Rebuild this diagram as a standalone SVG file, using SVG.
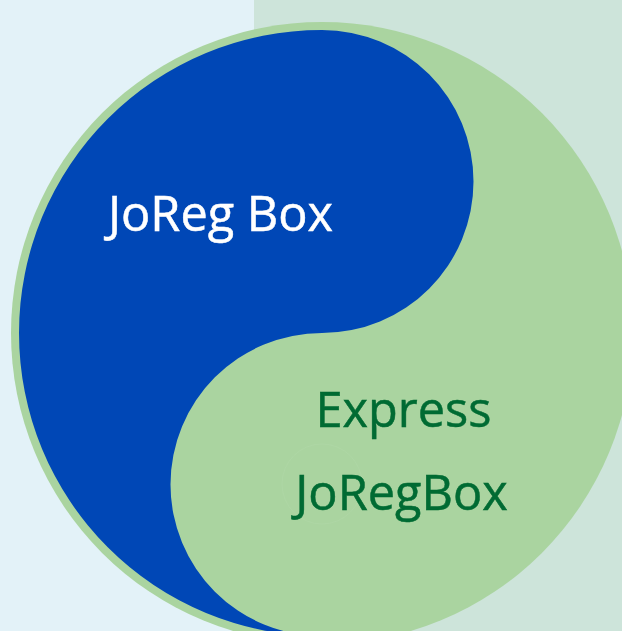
<svg xmlns="http://www.w3.org/2000/svg" width="622" height="631" viewBox="0 0 622 631">
<style>
.t{font-family:"Open Sans","Noto Sans",sans-serif;font-size:48.7px;text-anchor:middle;stroke-width:.5px}
.w{fill:#fff;stroke:#fff}
.g{fill:#006b33;stroke:#006b33}
</style>
<rect width="622" height="631" fill="#e3f2f8"/>
<rect x="254" width="368" height="631" fill="#cde4da"/>
<circle cx="322" cy="333" r="311" fill="#aad4a0"/>
<circle cx="322" cy="484" r="40" fill="none" stroke="#afd7a6" stroke-width="0.8"/>
<g id="joreg-box">
<path d="M322 30A151.5 151.5 0 0 1 322 333A151.5 151.5 0 0 0 322 636A303 303 0 0 1 322 30Z" fill="#0047b6"/>
<text class="t w" x="220.5" y="230.5">JoReg Box</text>
</g>
<g id="express-joregbox">
<text class="t g" x="403.5" y="427">Express</text>
<text class="t g" x="401.5" y="510">JoRegBox</text>
</g>
</svg>
